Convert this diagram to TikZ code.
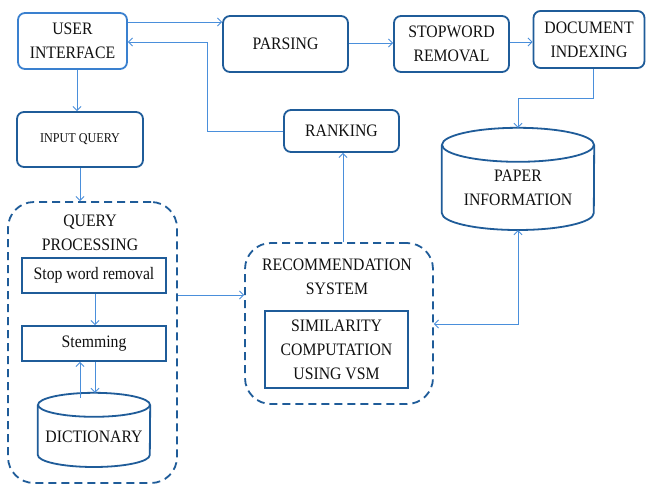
\documentclass[tikz,border=0pt]{standalone}
\usepackage{fontspec}
\setmainfont{Liberation Serif}
\newfontfamily\condfont{Liberation Serif}[FakeStretch=0.9]
\usetikzlibrary{arrows.meta}
\definecolor{boxblue}{HTML}{1F5C99}
\definecolor{uiblue}{HTML}{3A80CF}
\definecolor{arrblue}{HTML}{4A8FDB}
\definecolor{txt}{HTML}{111111}
\begin{document}
\begin{tikzpicture}[x=1pt,y=-1pt,
  every node/.style={font=\condfont\fontsize{17.5}{24}\selectfont, text=txt, align=center, inner sep=0pt},
  rbox/.style={draw=boxblue, line width=1.8pt, rounded corners=7pt},
  sbox/.style={draw=boxblue, line width=1.8pt},
  dbox/.style={draw=boxblue, line width=1.8pt, rounded corners=26pt, dash pattern=on 8pt off 5pt},
  arr/.style={draw=arrblue, line width=0.9pt, -{Straight Barb[length=4pt,width=8pt]}},
  darr/.style={draw=arrblue, line width=0.9pt, {Straight Barb[length=4pt,width=8pt]}-{Straight Barb[length=4pt,width=8pt]}},
  cyl/.style={draw=boxblue, line width=1.8pt}
]
\useasboundingbox[fill=white] (0,0) rectangle (647,485);

% top row
\node[rbox, draw=uiblue, minimum width=109pt, minimum height=56pt] (ui) at (72.5,41) {USER\\INTERFACE};
\node[rbox, minimum width=125pt, minimum height=56pt] (parse) at (285.5,44) {PARSING};
\node[rbox, minimum width=115pt, minimum height=56pt] (stopw) at (451.5,44) {STOPWORD\\REMOVAL};
\node[rbox, minimum width=111pt, minimum height=57pt] (docidx) at (589,39.5) {DOCUMENT\\INDEXING};

\node[rbox, minimum width=126pt, minimum height=55pt, font=\condfont\fontsize{13.5}{16}\selectfont] (inq) at (80,139.5) {INPUT QUERY};
\node[rbox, minimum width=115pt, minimum height=42pt] (rank) at (341.5,131) {RANKING};

% paper information cylinder
\node[minimum width=152pt, minimum height=102pt] (paper) at (518,179) {};
\draw[cyl] (paper.north) ++(0,17) ellipse [x radius=76, y radius=17];
\path (paper.north) ++(0,17) coordinate (ptc);
\draw[cyl] (paper.west |- ptc) -- (paper.west |- 0,213)
  arc[start angle=180, end angle=0, x radius=76, y radius=17] -- (paper.east |- ptc);
\node (papertxt) at (518,188) {PAPER\\INFORMATION};

% query processing
\node[dbox, minimum width=169pt, minimum height=281pt] (qp) at (92.5,342.5) {};
\node (qptitle) at (90,233) {QUERY\\PROCESSING};
\node[sbox, minimum width=144pt, minimum height=35pt] (swr) at (94,275.5) {Stop word removal};
\node[sbox, minimum width=144pt, minimum height=35pt] (stem) at (94,343.5) {Stemming};
\node[minimum width=112pt, minimum height=74pt] (dict) at (94,430) {};
\draw[cyl] (dict.north) ++(0,12) ellipse [x radius=56, y radius=12];
\path (dict.north) ++(0,12) coordinate (dtc);
\draw[cyl] (dict.west |- dtc) -- (dict.west |- 0,455)
  arc[start angle=180, end angle=0, x radius=56, y radius=12] -- (dict.east |- dtc);
\node (dicttxt) at (94,437) {DICTIONARY};

% recommendation system
\node[dbox, minimum width=188pt, minimum height=161pt] (rs) at (339,323.5) {};
\node (rstitle) at (337,277) {RECOMMENDATION\\SYSTEM};
\node[sbox, minimum width=143pt, minimum height=77pt] (sim) at (336.5,349.5) {SIMILARITY\\COMPUTATION\\USING VSM};

% connectors
\draw[arr] (ui.east |- 0,22) -- (parse.west |- 0,22);
\draw[arr] (rank.west) -- (207,131) |- (ui.east |- 0,42);
\draw[arr] (parse.east |- 0,43) -- (stopw.west |- 0,43);
\draw[arr] (stopw.east |- 0,42) -- (docidx.west |- 0,42);
\draw[arr] (docidx.south -| 593,0) -- (593,98) -| (paper.north);
\draw[arr] (ui.south -| 77,0) -- (inq.north -| 77,0);
\draw[arr] (inq.south -| 80,0) -- (qp.north -| 80,0);
\draw[arr] (qp.east |- 0,295) -- (rs.west |- 0,295);
\draw[arr] (rs.north -| 343,0) -- (rank.south -| 343,0);
\draw[darr] (rs.east |- 0,324) -| (paper.south);
\draw[arr] (swr.south -| 95,0) -- (stem.north -| 95,0);
\draw[arr] (stem.south -| 95,0) -- (dict.north -| 95,0);
\draw[arr] (dict.north -| 80,0) ++(0,5) -- (stem.south -| 80,0);
\end{tikzpicture}
\end{document}
